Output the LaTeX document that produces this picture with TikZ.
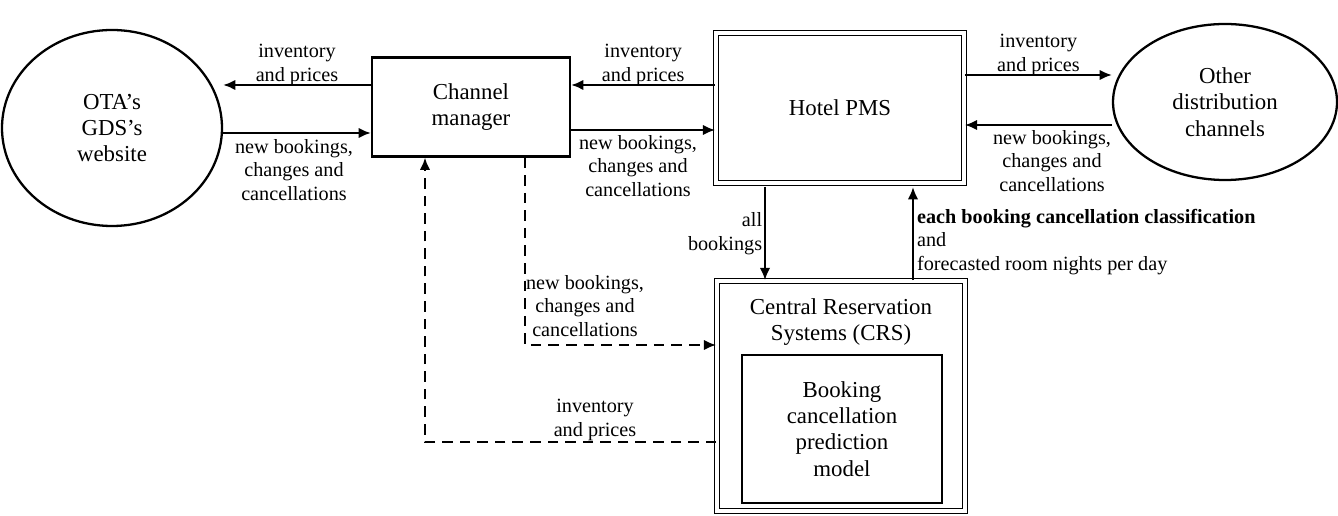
\documentclass[tikz,border=0pt]{standalone}
\usepackage{fontspec}
\setmainfont{Liberation Serif}
\usetikzlibrary{shapes.geometric, positioning, calc, arrows.meta}

\begin{document}
\begin{tikzpicture} [
        x=0.02cm, y=-0.02cm,
        channel/.style={draw, line width=1.3pt, ellipse, align=center, font=\fontsize{13}{15}\selectfont},
        box/.style={draw, line width=1.3pt, align=center, font=\fontsize{13}{15}\selectfont},
        sys/.style={draw, double, double distance=2pt, line width=0.9pt, align=center, font=\fontsize{13}{15}\selectfont},
        label flow/.style={align=center, font=\fontsize{11.5}{13.5}\selectfont, inner sep=1pt},
        flow/.style={-{Latex[length=7pt, width=6pt]}, line width=1.3pt},
        dflow/.style={flow, dash pattern=on 6pt off 4pt}
    ]
    \useasboundingbox (0,0) rectangle (1338,516);

    \path (112,128) node[channel, minimum width=220*0.02cm, minimum height=196*0.02cm] (ota) {OTA's\\GDS's\\website};
    \path (471,107) node[box, minimum width=198*0.02cm, minimum height=99*0.02cm] (cm) {Channel\\manager};
    \path (840,108) node[sys, minimum width=248*0.02cm, minimum height=150*0.02cm] (pms) {Hotel PMS};
    \path (1225,102) node[channel, minimum width=224*0.02cm, minimum height=156*0.02cm] (other) {Other\\distribution\\channels};
    \path (841,396) node[sys, minimum width=248*0.02cm, minimum height=230*0.02cm] (crs) {};
    \path (crs.north) ++(0,12) node[anchor=north, align=center, font=\fontsize{13}{15}\selectfont] (crs title) {Central Reservation\\Systems (CRS)};
    \path (842,429) node[box, minimum width=200*0.02cm, minimum height=148*0.02cm] (model) {Booking\\cancellation\\prediction\\model};

    % channel manager <-> OTA
    \draw[flow] (cm.west|-0,85) -- node[label flow, above, yshift=-2pt] {inventory\\and prices} (ota.east|-0,85);
    \draw[flow] (222,133) -- (cm.west|-0,133);
    \path (294,137) node[label flow, anchor=north] (ota new) {new bookings,\\changes and\\cancellations};

    % PMS <-> channel manager
    \draw[flow] (pms.west|-0,85) -- node[label flow, above, yshift=-2pt] {inventory\\and prices} (cm.east|-0,85);
    \draw[flow] (cm.east|-0,130) -- (pms.west|-0,130);
    \path (638,133) node[label flow, anchor=north] (cm new) {new bookings,\\changes and\\cancellations};

    % PMS <-> other channels
    \draw[flow] (pms.east|-0,75) -- node[label flow, above, yshift=-2pt] {inventory\\and prices} (1112,75);
    \draw[flow] (1112,125) -- (pms.east|-0,125);
    \path (1052,128) node[label flow, anchor=north] (other new) {new bookings,\\changes and\\cancellations};

    % PMS <-> CRS
    \draw[flow] (765,187) -- node[label flow, left, align=right] {all\\bookings} (crs.north-|765,0);
    \draw[flow] (crs.north-|913,0) -- (913,187);
    \path (915,242) node[label flow, anchor=west, align=left] (forecast) {\textbf{each booking cancellation classification}\\and\\forecasted room nights per day};

    % dashed flows
    \coordinate (cm out) at (525,345);
    \coordinate (crs out) at (425,442);
    \draw[dflow] (cm.south-|525,0) -- (cm out) -- (crs.west|-cm out);
    \path (585,306) node[label flow] (dash new) {new bookings,\\changes and\\cancellations};
    \draw[dflow] (crs.west|-crs out) -- (crs out) -- (cm.south-|crs out);
    \path (595,420) node[label flow] (dash inv) {inventory\\and prices};
\end{tikzpicture}
\end{document}
